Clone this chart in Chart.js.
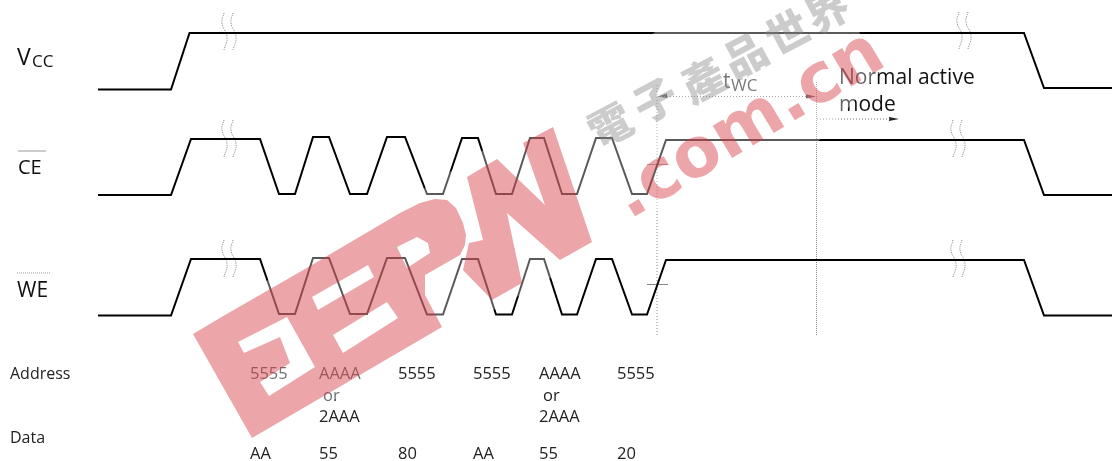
<!DOCTYPE html>
<html>
<head>
<meta charset="utf-8">
<title>Timing diagram</title>
<script src="https://cdn.jsdelivr.net/npm/chart.js@4"></script>
<style>
  html, body { margin: 0; padding: 0; background: #fff; }
  canvas { display: block; }
</style>
</head>
<body>
<canvas id="timingChart" width="1112" height="461"></canvas>
<script>
// --- signals ---
const vccX = [98, 171, 189.5, 1024, 1044, 1112];
const vccY = [89.5, 89.5, 33, 33, 88, 88];
const ceX = [98, 171, 191, 260, 279, 295, 313, 329, 350, 367, 387, 405, 427, 443, 462, 478, 496, 512, 530, 544, 562, 577, 596, 612, 632, 647, 666, 1024, 1044, 1112];
const ceY = [195, 195, 139, 139, 194, 194, 137, 137, 194, 194, 137, 137, 194, 194, 138, 138, 194, 194, 138, 138, 194, 194, 138, 138, 194, 194, 140, 140, 195, 195];
const weX = [98, 171, 191, 260, 279, 295, 313, 329, 350, 367, 387, 405, 427, 443, 462, 478, 496, 512, 530, 544, 562, 577, 596, 612, 632, 647, 666, 1024, 1044, 1112];
const weY = [315.5, 315.5, 259, 259, 314, 314, 258, 258, 314, 314, 258, 258, 314.5, 314.5, 259, 259, 314.5, 314.5, 259, 259, 314.5, 314.5, 259, 259, 314.5, 314.5, 260, 260, 315.5, 315.5];

// --- guides ---
const guideLeftX = [657, 657];
const guideLeftY = [85, 335];
const guideRightX = [816.5, 816.5];
const guideRightY = [82, 335];
const twcX = [658, 816];
const twcY = [96.5, 96.5];
const modeX = [817, 892];
const modeY = [119, 119];
const tickCeX = [647, 668];
const tickCeY = [164.5, 164.5];
const tickWeX = [647, 668];
const tickWeY = [284.5, 284.5];
const arrowAX = [658, 667, 667];
const arrowAY = [96.5, 93.5, 98];
const arrowBX = [806, 816, 806];
const arrowBY = [94.5, 96.5, 98.5];
const arrowCX = [889, 899, 889];
const arrowCY = [117, 119, 121];

// --- break marks: x and y offsets of each pair of waves ---
const waveX = [2, 0, 5, 2];
const waveY = [0, 10, 24, 37];
const breakMarkX = [222, 231, 222, 231, 222, 231, 957, 966, 951, 960, 951, 960];
const breakMarkY = [13, 13, 120, 120, 240, 240, 12, 12, 120, 120, 240, 240];

// --- watermark outlines ---
const logoEX = [193, 225, 238, 244, 280, 290, 260, 269, 315, 287, 238, 225, 305, 312, 318, 333, 343, 398, 387, 333, 318, 374, 368, 312, 305, 400, 397, 407, 430, 428, 417, 397, 400, 420, 435, 447, 456, 463, 466, 465, 460, 425, 425, 442, 252];
const logoEY = [334, 315, 342, 353, 337, 363, 382, 396, 367, 317, 342, 315, 269, 297, 310, 335, 353, 318, 302, 335, 310, 277, 265, 297, 269, 213, 247, 268, 253, 243, 237, 247, 213, 203, 199, 200, 208, 223, 235, 245, 255, 275, 295, 327, 438];
const logoWX = [467, 497, 545, 523, 553, 592, 560, 507, 522, 492, 463, 469, 483];
const logoWY = [177, 159, 205, 143, 127, 242, 260, 213, 283, 300, 270, 243, 240];
const haloX = [183, 430, 560, 700, 840, 882, 815, 655, 600, 252];
const haloY = [330, 185, 100, 0, 0, 70, 145, 210, 250, 446];

// --- labels ---
const rowLabels = ['Address', 'Data'];
const rowLabelX = [10, 10];
const rowLabelY = [374, 438];
const addressLabels = ['5555', 'AAAA', 'or', '2AAA', '5555', '5555', 'AAAA', 'or', '2AAA', '5555'];
const addressX = [250, 319, 323, 319, 398, 473, 539, 543, 539, 617];
const addressY = [374, 374, 396, 417, 374, 374, 374, 396, 417, 374];
const dataLabels = ['AA', '55', '80', 'AA', '55', '20'];
const dataX = [250, 319, 398, 473, 539, 617];
const dataY = [454, 454, 454, 454, 454, 454];
const watermarkGlyphs = ['電', '子', '產', '品', '世', '界'];
const watermarkX = [610, 655, 703, 745, 787, 827];
const watermarkY = [125, 100, 80, 55, 32, 10];

const FONT = '"Open Sans", "Noto Sans", sans-serif';

function zipPoints(xs, ys) {
    return xs.map((x, i) => ({ x: x, y: ys[i] }));
}

function lineSet(xs, ys, color, width, dash, order) {
    return {
        data: zipPoints(xs, ys),
        showLine: true,
        borderColor: color,
        borderWidth: width,
        borderDash: dash || [],
        pointRadius: 0,
        tension: 0,
        order: order || 5
    };
}

function shapeSet(xs, ys, color, order) {
    return {
        data: zipPoints(xs, ys),
        showLine: true,
        fill: 'shape',
        backgroundColor: color,
        borderColor: 'transparent',
        borderWidth: 0,
        pointRadius: 0,
        tension: 0,
        order: order
    };
}

const datasets = [
    lineSet(vccX, vccY, '#000', 2),
    lineSet(ceX, ceY, '#000', 2),
    lineSet(weX, weY, '#000', 2),
    lineSet(guideLeftX, guideLeftY, '#8a8a8a', 1, [1, 2]),
    lineSet(guideRightX, guideRightY, '#8a8a8a', 1, [1, 1]),
    lineSet(twcX, twcY, '#777', 1, [1, 2]),
    lineSet(modeX, modeY, '#777', 1, [1, 2]),
    lineSet(tickCeX, tickCeY, '#888', 1),
    lineSet(tickWeX, tickWeY, '#888', 1),
    shapeSet(arrowAX, arrowAY, '#222', 5),
    shapeSet(arrowBX, arrowBY, '#222', 5),
    shapeSet(arrowCX, arrowCY, '#222', 5),
    shapeSet(haloX, haloY, 'rgba(255,255,255,0.35)', 3),
    shapeSet(logoEX, logoEY, 'rgba(213,55,64,0.45)', 2),
    shapeSet(logoWX, logoWY, 'rgba(213,55,64,0.45)', 2)
];

// the break marks are the same two waves repeated
breakMarkX.forEach((bx, i) => {
    const wx = waveX.map(v => v + bx);
    const wy = waveY.map(v => v + breakMarkY[i]);
    const wave = lineSet(wx, wy, '#8a8a8a', 1, [1, 1]);
    wave.tension = 0.5;
    datasets.push(wave);
});

function drawText(ctx, chart, text, x, y, font, color) {
    ctx.font = font;
    ctx.fillStyle = color;
    ctx.fillText(text, chart.scales.x.getPixelForValue(x), chart.scales.y.getPixelForValue(y));
}

// labels go under the datasets so the watermark tints them
const labelsPlugin = {
    id: 'labels',
    beforeDatasetsDraw(chart) {
        const ctx = chart.ctx;
        ctx.save();
        ctx.textBaseline = 'middle';
        ctx.textAlign = 'left';
        drawText(ctx, chart, 'V', 17, 58, '23px ' + FONT, '#111');
        drawText(ctx, chart, 'CC', 32, 62, '17px ' + FONT, '#111');
        drawText(ctx, chart, 'CE', 18, 168, '20px ' + FONT, '#111');
        drawText(ctx, chart, 'WE', 17, 291, '21px ' + FONT, '#111');
        rowLabels.forEach((t, i) => drawText(ctx, chart, t, rowLabelX[i], rowLabelY[i], '16px ' + FONT, '#222'));
        addressLabels.forEach((t, i) => drawText(ctx, chart, t, addressX[i], addressY[i], '16.5px ' + FONT, '#222'));
        dataLabels.forEach((t, i) => drawText(ctx, chart, t, dataX[i], dataY[i], '16.5px ' + FONT, '#222'));
        drawText(ctx, chart, 't', 723, 82, '21px ' + FONT, '#333');
        drawText(ctx, chart, 'WC', 731, 86, '17px ' + FONT, '#333');
        drawText(ctx, chart, 'Normal active', 839, 78, '21px ' + FONT, '#111');
        drawText(ctx, chart, 'mode', 839, 105, '21px ' + FONT, '#111');
        // overbars of the active low signals
        ctx.strokeStyle = '#999';
        ctx.lineWidth = 1;
        ctx.beginPath();
        ctx.moveTo(18, 151);
        ctx.lineTo(46, 151);
        ctx.stroke();
        ctx.setLineDash([1, 1]);
        ctx.beginPath();
        ctx.moveTo(17, 273);
        ctx.lineTo(50, 273);
        ctx.stroke();
        ctx.restore();
    }
};

const watermarkPlugin = {
    id: 'watermark',
    afterDatasetsDraw(chart) {
        const ctx = chart.ctx;
        const sx = chart.scales.x;
        const sy = chart.scales.y;
        ctx.save();
        ctx.textAlign = 'center';
        ctx.textBaseline = 'middle';
        ctx.fillStyle = 'rgba(133,133,133,0.42)';
        ctx.font = '900 43px "Noto Sans CJK TC"';
        watermarkGlyphs.forEach((g, i) => {
            ctx.save();
            ctx.translate(sx.getPixelForValue(watermarkX[i]), sy.getPixelForValue(watermarkY[i]));
            ctx.rotate(-28 * Math.PI / 180);
            ctx.fillText(g, 0, 0);
            ctx.restore();
        });
        ctx.restore();

        ctx.save();
        ctx.translate(sx.getPixelForValue(629), sy.getPixelForValue(220));
        ctx.rotate(-31 * Math.PI / 180);
        ctx.textAlign = 'left';
        ctx.textBaseline = 'alphabetic';
        ctx.fillStyle = 'rgba(213,55,64,0.45)';
        ctx.font = 'bold 69px "DejaVu Sans"';
        ctx.fillText('.com.cn', 0, 0);
        ctx.restore();
    }
};

new Chart(document.getElementById('timingChart'), {
    type: 'scatter',
    data: { datasets: datasets },
    options: {
        responsive: false,
        animation: false,
        layout: { padding: 0 },
        plugins: { legend: { display: false }, tooltip: { enabled: false } },
        scales: {
            x: { type: 'linear', min: 0, max: 1112, display: false },
            y: { type: 'linear', min: 0, max: 461, reverse: true, display: false }
        }
    },
    plugins: [labelsPlugin, watermarkPlugin]
});
</script>
</body>
</html>
